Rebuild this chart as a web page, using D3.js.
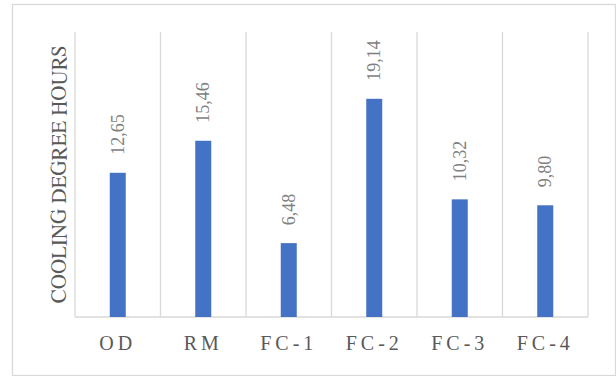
<!DOCTYPE html>
<html>
<head>
<meta charset="utf-8">
<script src="https://cdn.jsdelivr.net/npm/d3@7"></script>
</head>
<body style="margin:0">
<svg id="chart" width="616" height="376"></svg>
<script>
// Cooling degree hours per case
const categories = ["OD", "RM", "FC-1", "FC-2", "FC-3", "FC-4"];
const values = [12.65, 15.46, 6.48, 19.14, 10.32, 9.80];
const valueLabels = ["12,65", "15,46", "6,48", "19,14", "10,32", "9,80"];
const yTitle = "COOLING DEGREE HOURS";

const plot = { left: 75, right: 588, top: 32, bottom: 317 };

const svg = d3.select("#chart");

const x = d3.scaleBand()
  .domain(categories)
  .range([plot.left, plot.right])
  .paddingInner(0).paddingOuter(0);

const y = d3.scaleLinear()
  .domain([0, 25])
  .range([plot.bottom, plot.top]);

// Chart frame
svg.append("rect")
  .attr("x", 12.5).attr("y", 4.5)
  .attr("width", 603).attr("height", 371)
  .attr("fill", "none")
  .attr("stroke", "#d9d9d9")
  .attr("stroke-width", 1.3);

// Vertical separators between categories
const bounds = categories.map(c => x(c)).concat([plot.right]);
svg.append("g")
  .selectAll("line")
  .data(bounds)
  .join("line")
  .attr("x1", d => d).attr("x2", d => d)
  .attr("y1", plot.top).attr("y2", plot.bottom)
  .attr("stroke", "#d9d9d9")
  .attr("stroke-width", 1.3);

// Baseline
svg.append("line")
  .attr("x1", plot.left).attr("x2", plot.right)
  .attr("y1", plot.bottom).attr("y2", plot.bottom)
  .attr("stroke", "#d9d9d9")
  .attr("stroke-width", 1.3);

// Bars
const barW = 16;
svg.append("g")
  .selectAll("rect")
  .data(categories)
  .join("rect")
  .attr("x", d => x(d) + x.bandwidth() / 2 - barW / 2)
  .attr("y", (d, i) => y(values[i]))
  .attr("width", barW)
  .attr("height", (d, i) => y(0) - y(values[i]))
  .attr("fill", "#4472c4");

// Value labels, rotated above each bar
svg.selectAll("text.value")
  .data(categories)
  .join("text")
  .attr("class", "value")
  .attr("transform", (d, i) =>
    `translate(${x(d) + x.bandwidth() / 2 + 6},${y(values[i]) - 18}) rotate(-90)`)
  .style("font-family", "\"Times New Roman\"")
  .attr("font-size", 18)
  .attr("fill", "#7f7f7f")
  .text((d, i) => valueLabels[i]);

// Category labels along the bottom
svg.selectAll("text.cat")
  .data(categories)
  .join("text")
  .attr("class", "cat")
  .attr("x", d => x(d) + x.bandwidth() / 2)
  .attr("y", plot.bottom + 33)
  .attr("text-anchor", "middle")
  .style("font-family", "Tinos")
  .attr("font-size", 20)
  .attr("letter-spacing", "4px")
  .attr("fill", "#595959")
  .text(d => d);

// Y axis title
svg.append("text")
  .attr("transform", `translate(66,${(plot.top + plot.bottom) / 2}) rotate(-90)`)
  .attr("text-anchor", "middle")
  .style("font-family", "FreeSerif")
  .attr("font-size", 21)
  .attr("fill", "#595959")
  .text(yTitle);
</script>
</body>
</html>
